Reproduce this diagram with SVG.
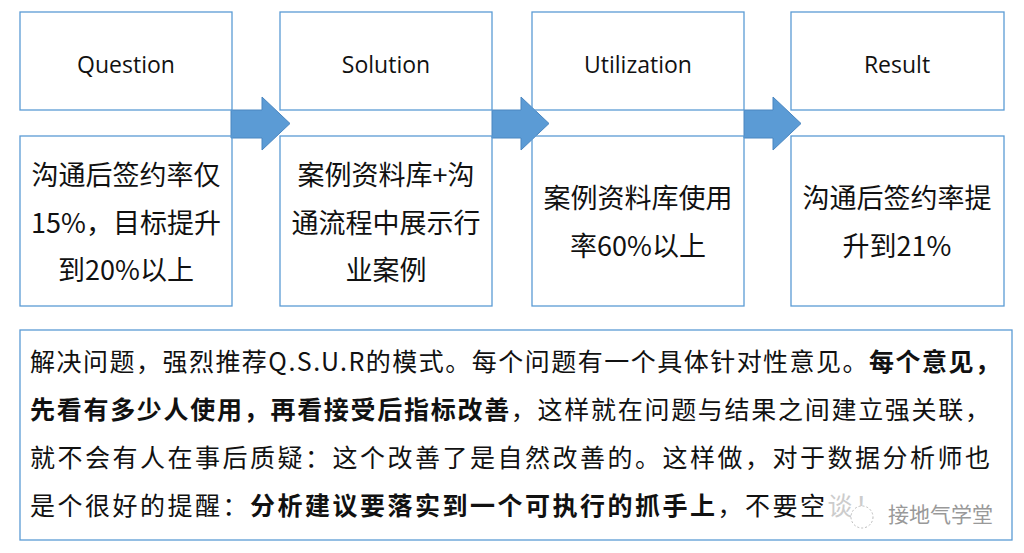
<svg xmlns="http://www.w3.org/2000/svg" width="1024" height="553" viewBox="0 0 1024 553">
<style>
.bx{fill:#fff;stroke:none}
.bs{fill:none;stroke:#5b9bd5;stroke-width:1.3}
.h{font-family:"Open Sans","Liberation Sans",sans-serif;font-size:23px;fill:#111;text-anchor:middle}
.b{font-family:"Noto Sans CJK SC",sans-serif;font-size:27px;fill:#111;text-anchor:middle}
.t{font-family:"Noto Sans CJK SC",sans-serif;font-size:25px;fill:#111}
.ar{fill:#5b9bd5;stroke:#4a86c0;stroke-width:1}
</style>
<rect width="1024" height="553" fill="#fff"/>
<g id="fills">
<rect class="bx" x="20" y="12" width="212" height="98"/><rect class="bx" x="20" y="136" width="212" height="170"/>
<rect class="bx" x="280" y="12" width="212" height="98"/><rect class="bx" x="280" y="136" width="212" height="170"/>
<rect class="bx" x="532" y="12" width="212" height="98"/><rect class="bx" x="532" y="136" width="212" height="170"/>
<rect class="bx" x="791" y="12" width="213" height="98"/><rect class="bx" x="791" y="136" width="213" height="170"/>
</g>
<g id="connectors">
<path class="ar" d="M231,110 H262 V97 L290,123.5 L262,150 V138 H231 Z"/>
<path class="ar" d="M492,110 H521 V97 L549,123.5 L521,150 V138 H492 Z"/>
<path class="ar" d="M744,110 H773 V97 L801,123.5 L773,150 V138 H744 Z"/>
</g>
<g id="q"><rect class="bs" x="20" y="12" width="212" height="98"/><text class="h" x="126" y="73">Question</text>
<rect class="bs" x="20" y="136" width="212" height="170"/>
<text class="b" x="126" y="185">沟通后签约率仅</text><text class="b" x="126" y="233">15%，目标提升</text><text class="b" x="126" y="280">到20%以上</text></g>
<g id="s"><rect class="bs" x="280" y="12" width="212" height="98"/><text class="h" x="386" y="73">Solution</text>
<rect class="bs" x="280" y="136" width="212" height="170"/>
<text class="b" x="386" y="185">案例资料库+沟</text><text class="b" x="386" y="233">通流程中展示行</text><text class="b" x="386" y="280">业案例</text></g>
<g id="u"><rect class="bs" x="532" y="12" width="212" height="98"/><text class="h" x="638" y="73">Utilization</text>
<rect class="bs" x="532" y="136" width="212" height="170"/>
<text class="b" x="638" y="208">案例资料库使用</text><text class="b" x="638" y="256">率60%以上</text></g>
<g id="r"><rect class="bs" x="791" y="12" width="213" height="98"/><text class="h" x="897" y="73">Result</text>
<rect class="bs" x="791" y="136" width="213" height="170"/>
<text class="b" x="897" y="208">沟通后签约率提</text><text class="b" x="897" y="256">升到21%</text></g>
<g id="note">
<rect x="20" y="330" width="992" height="210" fill="#fff" stroke="#5b9bd5" stroke-width="1.3"/>
<text class="t" x="30" y="371" textLength="970" lengthAdjust="spacing">解决问题，强烈推荐Q.S.U.R的模式。每个问题有一个具体针对性意见。<tspan font-weight="bold">每个意见，</tspan></text>
<text class="t" x="30" y="419" textLength="960" lengthAdjust="spacing"><tspan font-weight="bold">先看有多少人使用，再看接受后指标改善</tspan>，这样就在问题与结果之间建立强关联，</text>
<text class="t" x="30" y="467" textLength="960" lengthAdjust="spacing">就不会有人在事后质疑：这个改善了是自然改善的。这样做，对于数据分析师也</text>
<text class="t" x="30" y="515" textLength="850" lengthAdjust="spacing">是个很好的提醒：<tspan font-weight="bold">分析建议要落实到一个可执行的抓手上</tspan>，不要空<tspan fill="#ccc">谈！</tspan></text>
<circle cx="862" cy="517" r="11" fill="#fff" stroke="#bbb" stroke-dasharray="2 2"/>
<text x="888" y="522" font-family="Noto Sans CJK SC,sans-serif" font-size="21" fill="#999">接地气学堂</text>
</g>
</svg>
